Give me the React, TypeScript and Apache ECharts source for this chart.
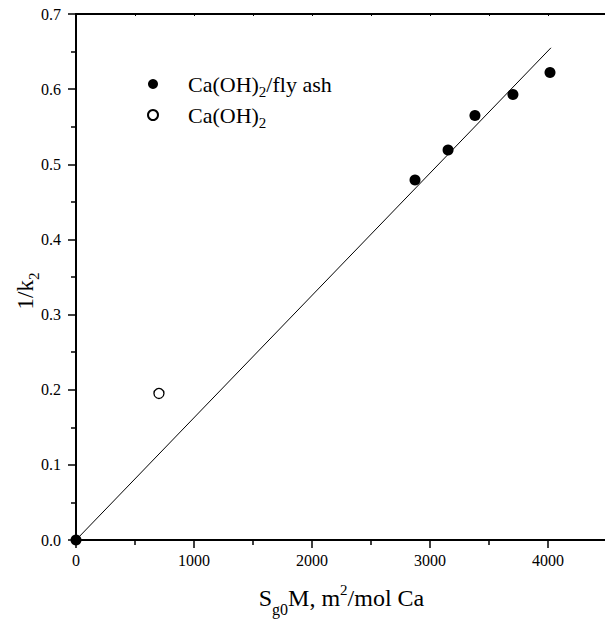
import React, { useEffect, useRef } from "react";
import * as echarts from "echarts";

const flyAshPoints: [number, number][] = [
  [0, 0],
  [2873, 0.479],
  [3153, 0.519],
  [3381, 0.565],
  [3703, 0.593],
  [4017, 0.622],
];
const caOHPoints: [number, number][] = [[703, 0.195]];
const fitLine: [number, number][] = [
  [0, 0],
  [4025, 0.655],
];
const xTicks = [0, 1000, 2000, 3000, 4000];
const yTicks = [0, 0.1, 0.2, 0.3, 0.4, 0.5, 0.6, 0.7];

const FONT = "Liberation Serif";

export default function App() {
  const ref = useRef<HTMLDivElement>(null);
  useEffect(() => {
    if (!ref.current) return;
    const chart = echarts.init(ref.current, undefined, { renderer: "svg" });
    const axisLineStyle = { color: "#000", width: 2 };
    chart.setOption({
      animation: false,
      backgroundColor: "#fff",
      textStyle: { fontFamily: FONT, color: "#000" },
      grid: { left: 76, top: 14, width: 531, height: 526, outerBoundsMode: "none", containLabel: false },
      legend: {
        left: 147,
        top: 69,
        padding: 0,
        orient: "vertical",
        itemWidth: 10,
        itemHeight: 10,
        itemGap: 1,
        data: ["flyash", "caoh"],
        formatter: (name: string) =>
          name === "flyash" ? "{a|Ca(OH)}{s|2}{a|/fly ash}" : "{a|Ca(OH)}{s|2}",
        textStyle: {
          fontFamily: FONT,
          padding: [0, 0, 0, 25],
          rich: {
            a: { fontFamily: FONT, fontSize: 22, color: "#000", lineHeight: 25 },
            s: { fontFamily: FONT, fontSize: 15, color: "#000", lineHeight: 15, padding: [15, 0, 0, 0] },
          },
        },
      },
      xAxis: [
        {
          type: "value",
          min: 0,
          max: 4500,
          interval: 1000,
          position: "bottom",
          name: "{a|S}{s|g0}{a|M, m}{p|2}{a|/mol Ca}",
          nameLocation: "middle",
          nameGap: 44,
          nameTextStyle: {
            fontFamily: FONT,
            rich: {
              a: { fontFamily: FONT, fontSize: 24, color: "#000", lineHeight: 28 },
              s: { fontFamily: FONT, fontSize: 16, color: "#000", lineHeight: 16, padding: [22, 0, 0, 0] },
              p: { fontFamily: FONT, fontSize: 15, color: "#000", lineHeight: 15, padding: [0, 0, 16, 0] },
            },
          },
          axisLine: { show: true, onZero: false, lineStyle: axisLineStyle },
          axisTick: { show: true, length: 8, lineStyle: { color: "#000", width: 1.5 } },
          minorTick: { show: true, splitNumber: 2, length: 5, lineStyle: { color: "#000", width: 1.5 } },
          splitLine: { show: false },
          axisLabel: {
            color: "#000",
            fontFamily: FONT,
            fontSize: 16,
            margin: 12,
            showMaxLabel: false,
            formatter: (v: number) => (xTicks.includes(v) ? String(v) : ""),
          },
        },
        {
          type: "value",
          min: 0,
          max: 4500,
          interval: 500,
          position: "top",
          axisLine: { show: true, onZero: false, lineStyle: axisLineStyle },
          axisTick: { show: true, inside: true, length: 2, lineStyle: { color: "#000", width: 1 } },
          axisLabel: { show: false },
          splitLine: { show: false },
        },
      ],
      yAxis: {
        type: "value",
        min: 0,
        max: 0.7,
        interval: 0.1,
        name: "{a|1/k}{s|2}",
        nameLocation: "middle",
        nameGap: 38,
        nameMoveOverlap: false,
        nameRotate: 90,
        nameTextStyle: {
          fontFamily: FONT,
          padding: [0, 28, 0, 0],
          rich: {
            a: { fontFamily: FONT, fontSize: 23, color: "#000", lineHeight: 26 },
            s: { fontFamily: FONT, fontSize: 15, color: "#000", lineHeight: 15, padding: [17, 0, 0, 0] },
          },
        },
        axisLine: { show: true, onZero: false, lineStyle: axisLineStyle },
        axisTick: { show: true, length: 8, lineStyle: { color: "#000", width: 1.5 } },
        minorTick: { show: true, splitNumber: 2, length: 5, lineStyle: { color: "#000", width: 1.5 } },
        splitLine: { show: false },
        axisLabel: {
          color: "#000",
          fontFamily: FONT,
          fontSize: 16,
          margin: 15,
          formatter: (v: number) => (yTicks.some((t) => Math.abs(t - v) < 1e-9) ? v.toFixed(1) : ""),
        },
      },
      series: [
        {
          type: "line",
          name: "fit",
          data: fitLine,
          showSymbol: false,
          symbol: "none",
          lineStyle: { color: "#000", width: 1 },
          z: 1,
        },
        {
          type: "scatter",
          name: "flyash",
          data: flyAshPoints,
          symbol: "circle",
          symbolSize: 11,
          itemStyle: { color: "#000", opacity: 1 },
          clip: false,
          z: 3,
        },
        {
          type: "scatter",
          name: "caoh",
          data: caOHPoints,
          symbol: "circle",
          symbolSize: 10,
          itemStyle: { color: "#fff", borderColor: "#000", borderWidth: 1.3, opacity: 1 },
          z: 3,
        },
      ],
    });
    return () => chart.dispose();
  }, []);
  return (
    <div
      ref={ref}
      style={{ position: "fixed", left: 0, top: 0, width: 605, height: 627, background: "#fff" }}
    />
  );
}
